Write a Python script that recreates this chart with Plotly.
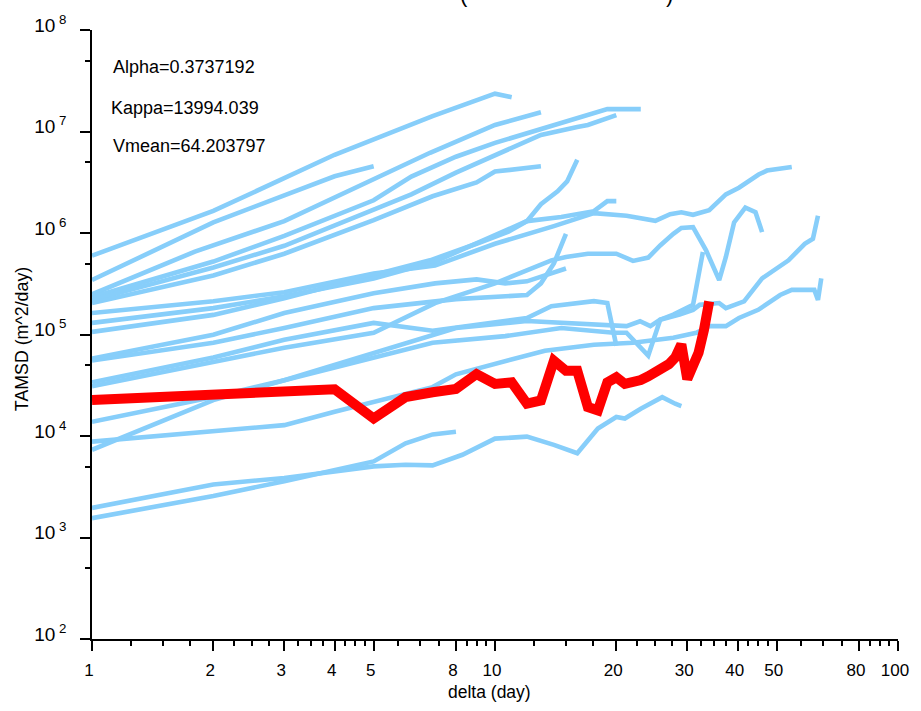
import plotly.graph_objects as go

# ---------------- data (delta in days, TAMSD in m^2/day) ----------------
red_days = list(range(1, 35))
red_tamsd = [22600, 25000, 27500, 28900, 14900, 24200, 27000, 29100, 40800, 32600,
             33800, 20800, 22400, 55100, 43900, 43900, 19300, 17900, 33800, 37900,
             32600, 33800, 35600, 38700, 42400, 45600, 51000, 59300, 79800, 36400,
             47400, 66300, 111000, 212000]

tA_days = [1, 2, 4, 7, 10, 11]
tA_vals = [5.98e5, 1.65e6, 5.90e6, 1.42e7, 2.36e7, 2.18e7]

tB_days = [1, 2, 3, 4, 5]
tB_vals = [3.44e5, 1.27e6, 2.35e6, 3.62e6, 4.54e6]

tC_days = [1, 1.8, 3, 4.9, 6.9, 10, 13]
tC_vals = [2.49e5, 6.55e5, 1.31e6, 3.22e6, 6.17e6, 1.16e7, 1.55e7]

tD_days = [1, 2, 3, 5, 6.2, 8, 10, 13, 16, 19, 23]
tD_vals = [2.33e5, 5.23e5, 9.37e5, 2.10e6, 3.60e6, 5.64e6, 7.72e6, 1.06e7, 1.38e7, 1.66e7, 1.66e7]

tE_days = [1, 2, 3, 5, 6.2, 8, 10, 13, 16, 17, 20]
tE_vals = [2.18e5, 4.57e5, 7.48e5, 1.68e6, 2.40e6, 3.94e6, 5.90e6, 9.25e6, 1.11e7, 1.16e7, 1.45e7]

tF_days = [1, 2, 3, 5, 7, 9, 10, 13]
tF_vals = [2.04e5, 3.82e5, 6.25e5, 1.34e6, 2.30e6, 3.15e6, 4.03e6, 4.54e6]

tG_days = [1, 2, 3, 5, 6.9, 9, 10.8, 12, 13, 14.3, 15.1, 16]
tG_vals = [1.06e5, 1.56e5, 2.28e5, 3.82e5, 5.38e5, 7.83e5, 1.03e6, 1.31e6, 1.92e6, 2.57e6, 3.22e6, 5.27e6]

tH_days = [1, 2, 3, 5, 7.1, 9.3, 12, 14.6, 17.6, 19, 20]
tH_vals = [1.30e5, 1.82e5, 2.38e5, 3.57e5, 5.23e5, 8.38e5, 1.31e6, 1.44e6, 1.64e6, 2.06e6, 2.06e6]

tL_days = [1, 2, 3, 5, 7.1, 10, 14, 17.6, 21.2, 25, 27.2, 29, 31, 34, 37.4, 40.3, 45.1, 47.3, 54.5]
tL_vals = [1.63e5, 2.13e5, 2.61e5, 3.99e5, 4.78e5, 7.83e5, 1.17e6, 1.57e6, 1.48e6, 1.32e6,
           1.535e6, 1.60e6, 1.51e6, 1.68e6, 2.40e6, 2.79e6, 3.77e6, 4.12e6, 4.48e6]

tK_days = [1, 2, 3, 5, 7.1, 9, 10.6, 12, 15]
tK_vals = [5.80e4, 9.93e4, 1.63e5, 2.55e5, 3.19e5, 3.49e5, 3.19e5, 3.34e5, 4.47e5]

tJ_days = [1, 2, 3, 5, 8, 12, 13, 14, 15]
tJ_vals = [5.54e4, 8.30e4, 1.16e5, 1.82e5, 2.23e5, 2.45e5, 3.19e5, 5.00e5, 9.80e5]

tS_days = [1, 2, 3, 5, 7, 12, 13.8, 17.6, 19, 20]
tS_vals = [3.38e4, 5.93e4, 8.88e4, 1.30e5, 1.09e5, 1.455e5, 1.90e5, 2.13e5, 2.04e5, 7.76e4]

tM_days = [1, 2, 3, 5, 7.1, 10, 13.8, 15, 17, 20, 22, 24, 25.7, 27.7, 29, 31, 33.4, 36,
           37.4, 39.2, 41.8, 44.3, 46]
tM_vals = [3.09e4, 5.30e4, 7.42e4, 1.04e5, 2.04e5, 3.19e5, 5.38e5, 5.81e5, 6.25e5, 6.25e5,
           5.31e5, 5.72e5, 7.54e5, 9.80e5, 1.12e6, 1.14e6, 6.74e5, 3.44e5, 5.81e5, 1.27e6,
           1.78e6, 1.60e6, 1.02e6]

tR_days = [1, 2, 3, 5, 7, 10.6, 14.6, 19.7, 21.2, 24, 25.7, 27.7, 29.3, 31, 32.8]
tR_vals = [1.38e4, 2.42e4, 3.54e4, 5.93e4, 8.30e4, 9.64e4, 1.16e5, 1.04e5, 1.04e5, 6.20e4,
           1.40e5, 1.57e5, 1.75e5, 1.96e5, 6.50e5]

tO_days = [1, 3, 4, 5, 7, 8, 10, 13.3, 17.6, 22, 27.7, 31.6, 34, 37.4, 40.3, 45, 51, 54.5,
           62, 63.3, 64.5]
tO_vals = [8.80e3, 1.28e4, 1.73e4, 2.16e4, 3.03e4, 4.05e4, 5.07e4, 6.93e4, 7.94e4, 8.30e4,
           9.29e4, 1.04e5, 1.21e5, 1.21e5, 1.455e5, 1.75e5, 2.45e5, 2.75e5, 2.75e5, 2.19e5, 3.57e5]

tN_days = [1, 2, 3, 5, 8, 12, 17.6, 21.2, 22.9, 24.3, 25.7, 28.7, 31, 32.2, 36, 37.4, 41.5,
           46, 53.5, 58.7, 61.5, 63.3]
tN_vals = [7.31e3, 2.26e4, 3.54e4, 6.63e4, 1.16e5, 1.36e5, 1.24e5, 1.21e5, 1.35e5, 1.21e5,
           1.40e5, 1.57e5, 1.75e5, 1.96e5, 2.04e5, 1.82e5, 2.12e5, 3.57e5, 5.38e5, 7.83e5,
           8.77e5, 1.48e6]

tP_days = [1, 2, 3, 5, 6, 7, 8.3, 10, 12, 14, 16, 18, 20, 21, 23, 26, 28, 29]
tP_vals = [1955, 3330, 3860, 5020, 5210, 5140, 6530, 9420, 9850, 8170, 6760, 11860, 15400,
           14860, 18580, 24150, 20800, 19730]

tQ_days = [1, 2, 3, 5, 6, 7, 8]
tQ_vals = [1552, 2560, 3590, 5620, 8470, 10370, 11010]

blue_tracks = [
    (tA_days, tA_vals), (tB_days, tB_vals), (tC_days, tC_vals), (tD_days, tD_vals),
    (tE_days, tE_vals), (tF_days, tF_vals), (tG_days, tG_vals), (tH_days, tH_vals),
    (tL_days, tL_vals), (tK_days, tK_vals), (tJ_days, tJ_vals), (tS_days, tS_vals),
    (tM_days, tM_vals), (tR_days, tR_vals), (tO_days, tO_vals), (tN_days, tN_vals),
    (tP_days, tP_vals), (tQ_days, tQ_vals),
]

x_tickvals = [1, 2, 3, 4, 5, 8, 10, 20, 30, 40, 50, 80, 100]
x_minor = [1.25, 1.5, 1.75, 2.25, 2.5, 2.75, 3.25, 3.5, 3.75, 4.25, 4.5, 4.75,
           5.75, 6.5, 7.25, 8.5, 9, 9.5, 12.5, 15, 17.5, 22.5, 25, 27.5,
           32.5, 35, 37.5, 42.5, 45, 47.5, 57.5, 65, 72.5, 85, 90, 95]
y_exponents = [2, 3, 4, 5, 6, 7, 8]
y_minor = [5e2, 5e3, 5e4, 5e5, 5e6, 5e7]

stats_text = ["Alpha=0.3737192", "Kappa=13994.039", "Vmean=64.203797"]

# ---------------- figure ----------------
FONT = "Liberation Sans, Arial, Helvetica, sans-serif"
BLUE = "#87CEFA"
RED = "#FF0000"

fig = go.Figure()
for d, v in blue_tracks:
    fig.add_trace(go.Scatter(x=d, y=v, mode="lines",
                             line=dict(color=BLUE, width=4.6), hoverinfo="skip"))
fig.add_trace(go.Scatter(x=red_days, y=red_tamsd, mode="lines",
                         line=dict(color=RED, width=10), hoverinfo="skip"))

fig.update_layout(
    width=921, height=711,
    margin=dict(l=92, r=13, t=24, b=72, pad=0),
    paper_bgcolor="white", plot_bgcolor="white",
    showlegend=False,
    font=dict(family=FONT, color="black", size=16),
)

fig.update_xaxes(
    type="log", range=[0, 2],
    showgrid=False, zeroline=False,
    showline=True, linecolor="black", linewidth=1.5, mirror=False,
    ticks="outside", ticklen=10, tickwidth=1.5, tickcolor="black",
    tickmode="array", tickvals=x_tickvals, ticktext=[str(t) for t in x_tickvals],
    tickfont=dict(family=FONT, size=17, color="black"),
    ticklabelstandoff=5, ticklabelshift=-3,
    minor=dict(tickmode="array", tickvals=x_minor, ticks="outside",
               ticklen=5, tickwidth=1.5, tickcolor="black", showgrid=False),
)
fig.update_yaxes(
    type="log", range=[2, 8],
    showgrid=False, zeroline=False,
    showline=True, linecolor="black", linewidth=1.5, mirror=False,
    ticks="outside", ticklen=10, tickwidth=1.5, tickcolor="black",
    tickmode="array", tickvals=[10 ** e for e in y_exponents],
    ticktext=["10<sup>\u00a0%d</sup>" % e for e in y_exponents],
    tickfont=dict(family=FONT, size=19, color="black"),
    ticklabelstandoff=10, ticklabelshift=-5,
    minor=dict(tickmode="array", tickvals=y_minor, ticks="outside",
               ticklen=5, tickwidth=1.5, tickcolor="black", showgrid=False),
)

# axis titles
fig.add_annotation(text="delta (day)", xref="paper", yref="paper",
                   x=0.4928, y=-0.0868, xanchor="center", yanchor="middle",
                   showarrow=False, font=dict(family=FONT, size=17.5, color="black"))
fig.add_annotation(text="TAMSD (m^2/day)", xref="paper", yref="paper",
                   x=-0.0876, y=0.493, xanchor="center", yanchor="middle", textangle=-90,
                   showarrow=False, font=dict(family=FONT, size=17.8, color="black"))

# fit statistics
for txt, xp, yp in zip(stats_text, [0.0235, 0.0205, 0.0230], [0.9388, 0.8721, 0.8088]):
    fig.add_annotation(text=txt, xref="paper", yref="paper", x=xp, y=yp,
                       xanchor="left", yanchor="middle", showarrow=False,
                       font=dict(family=FONT, size=18, color="black"))

# title, cut off by the top edge (only the parentheses' bottoms visible)
for ch, xp in [("(", 0.4610), (")", 0.7170)]:
    fig.add_annotation(text=ch, xref="paper", yref="paper", x=xp, y=1,
                       xanchor="center", yanchor="bottom", yshift=21, showarrow=False,
                       font=dict(family=FONT, size=22, color="black"))

fig.write_html("out.html")
